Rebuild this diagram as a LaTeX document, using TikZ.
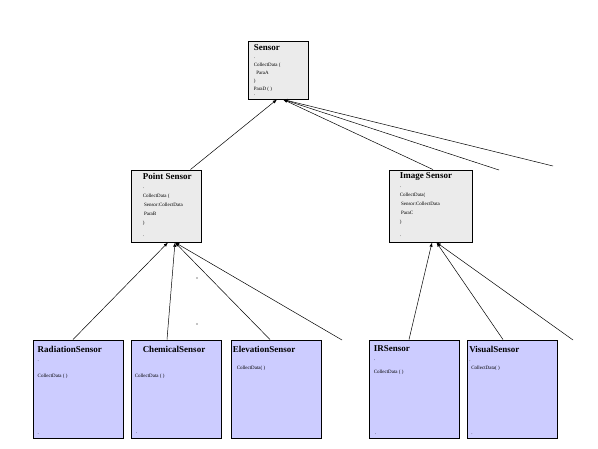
\documentclass[tikz,border=0pt]{standalone}
\usepackage{fontspec}
\setmainfont{Liberation Serif}
\usetikzlibrary{calc}
\definecolor{boxgray}{HTML}{EBEBEB}
\definecolor{boxblue}{HTML}{CCCCFF}
\newcommand{\boxtitle}[1]{{\fontsize{9}{10}\selectfont\bfseries #1}}

\begin{document}
\begin{tikzpicture}[x=1pt,y=-1pt]
        \tikzstyle{base}=[rectangle,draw=black,line width=0.9pt,inner sep=0pt]
        \tikzstyle{parent}=[base,fill=boxgray,minimum height=72pt]
        \tikzstyle{child}=[base,fill=boxblue,minimum width=90pt,minimum height=98pt]
        \tikzstyle{body}=[anchor=north west,align=left,inner sep=0pt,
        font=\fontsize{5}{9}\selectfont]
        \tikzstyle{enddot}=[anchor=south west,inner sep=0pt,font=\fontsize{5}{6}\selectfont]
        \tikzstyle{dotmark}=[circle,fill=black,inner sep=0pt,minimum size=1.3pt]
        \tikzstyle{edge}=[line width=0.5pt,-latex]
        \useasboundingbox (0,0) rectangle (598,448);
        % classes
        \node at (278,70) [parent,minimum width=60pt,minimum height=58pt] (sensor) {};
        \node at (166,206) [parent,minimum width=70pt] (point) {};
        \node at (430.5,206) [parent,minimum width=83pt] (image) {};
        \node at (78,389) [child] (radiation) {};
        \node at (176,389) [child] (chemical) {};
        \node at (276,389) [child] (elevation) {};
        \node at (414,389) [child] (ir) {};
        \node at (512.5,389) [child] (visual) {};
        % texts
        \node [body] (sensortxt) at ($(sensor.north west)+(6,4)$)
          {\boxtitle{Sensor}\\[-1pt] .\\[-1pt] CollectData (\\[-1pt] \ \ ParaA\\[-1pt] )\\[-1pt] ParaD ( )};
        \node [enddot] (sensorend) at ($(sensor.south west)+(6,-3)$) {.};
        \node [body] (pointtxt) at ($(point.north west)+(12,3)$)
          {\boxtitle{Point Sensor}\\ .\\ CollectData (\\ \ Sensor:CollectData\\ \ ParaB\\ )};
        \node [enddot] (pointend) at ($(point.south west)+(12,-5)$) {.};
        \node [body] (imagetxt) at ($(image.north west)+(11,3)$)
          {\boxtitle{Image Sensor}\\ .\\ CollectData(\\ \ Sensor:CollectData\\ \ ParaC\\ )};
        \node [enddot] (imageend) at ($(image.south west)+(11,-5)$) {.};
        \node [body] (radiationtxt) at ($(radiation.north west)+(5,6)$)
          {\boxtitle{RadiationSensor}\\ .\\[7pt] CollectData ( )};
        \node [enddot] (radiationend) at ($(radiation.south west)+(5,-3)$) {.};
        \node [body] (chemicaltxt) at ($(chemical.north west)+(4,6)$)
          {\hspace*{8pt}\boxtitle{ChemicalSensor}\\[16pt] CollectData ( )};
        \node [enddot] (chemicalend) at ($(chemical.south west)+(5,-4)$) {.};
        \node [body] (elevationtxt) at ($(elevation.north west)+(2,6)$)
          {\boxtitle{ElevationSensor}\\[8pt] \hspace*{4pt}CollectData( )};
        \node [body] (irtxt) at ($(ir.north west)+(5,6)$)
          {\boxtitle{IRSensor}\\ .\\[4pt] CollectData ( )};
        \node [enddot] (irend) at ($(ir.south west)+(6,-3)$) {.};
        \node [body] (visualtxt) at ($(visual.north west)+(2,6)$)
          {\boxtitle{VisualSensor}\\ .\\[-1pt] \hspace*{2pt}CollectData( )};
        \node [enddot] (visualend) at ($(visual.south west)+(4,-3)$) {.};
        % loose ends and stray points
        \coordinate (freea) at (499,170);
        \coordinate (freeb) at (553,166);
        \coordinate (freec) at (342,340);
        \coordinate (freed) at (573,340);
        \node at (197,278) [dotmark] (dota) {};
        \node at (197,324) [dotmark] (dotb) {};
        % generalisations
        \draw[edge] ([xshift=-11pt]point.north east) -- ([xshift=-1pt]sensor.south);
        \draw[edge] ([xshift=2.5pt]image.north) -- ([xshift=5pt]sensor.south);
        \draw[edge] (freea) -- ([xshift=5pt]sensor.south);
        \draw[edge] (freeb) -- ([xshift=5pt]sensor.south);
        \draw[edge] ([xshift=-5pt]radiation.north) -- ([xshift=2pt]point.south);
        \draw[edge] ([xshift=-9pt]chemical.north) -- ([xshift=9pt]point.south);
        \draw[edge] ([xshift=-6pt]elevation.north) -- ([xshift=9pt]point.south);
        \draw[edge] (freec) -- ([xshift=9pt]point.south);
        \draw[edge] ([xshift=-5pt]ir.north) -- ([xshift=1.5pt]image.south);
        \draw[edge] ([xshift=-9.5pt]visual.north) -- ([xshift=6pt]image.south);
        \draw[edge] (freed) -- ([xshift=6pt]image.south);
\end{tikzpicture}
\end{document}
